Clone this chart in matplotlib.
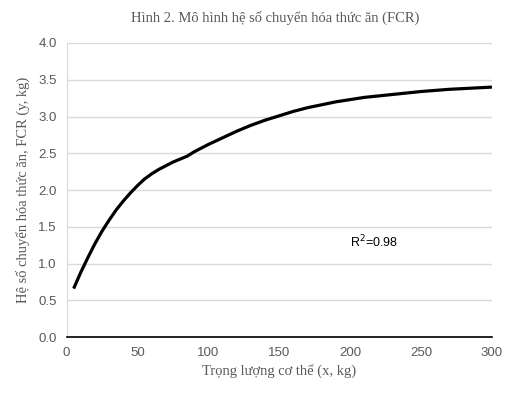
import numpy as np
import matplotlib.pyplot as plt

# weight (kg) vs FCR
weight = [5, 10, 15, 20, 25, 30, 35, 40, 45, 50, 55, 60, 65, 70, 75, 80,
          85, 90, 100, 110, 120, 130, 140, 150, 160, 170, 180, 190, 200,
          210, 220, 230, 240, 250, 260, 270, 280, 290, 300]
fcr = [0.66, 0.88, 1.08, 1.27, 1.44, 1.59, 1.73, 1.85, 1.96, 2.06, 2.15,
       2.22, 2.28, 2.33, 2.38, 2.42, 2.46, 2.52, 2.62, 2.71, 2.80, 2.88,
       2.95, 3.01, 3.07, 3.12, 3.16, 3.20, 3.23, 3.26, 3.28, 3.30, 3.32,
       3.34, 3.355, 3.37, 3.38, 3.39, 3.40]
xticks = [0, 50, 100, 150, 200, 250, 300]
yticks = [0.0, 0.5, 1.0, 1.5, 2.0, 2.5, 3.0, 3.5, 4.0]

serif = 'Liberation Serif'
sans = 'Liberation Sans'
grey = '#595959'

fig = plt.figure(figsize=(5.2, 3.98), dpi=100)
ax = fig.add_axes([0.128, 0.153, 0.818, 0.739])

ax.plot(weight, fcr, color='black', lw=2.3, solid_capstyle='butt',
        solid_joinstyle='round')

ax.set_xlim(0, 300)
ax.set_ylim(0, 4.0)
ax.set_xticks(xticks)
ax.set_yticks(yticks)
ax.set_xticklabels([str(t) for t in xticks], fontfamily=sans, fontsize=9.5, color=grey)
ax.set_yticklabels([f'{t:.1f}' for t in yticks], fontfamily=sans, fontsize=9.5, color=grey)
ax.tick_params(length=0, pad=7)
ax.yaxis.grid(True, color='#d9d9d9', lw=1)
ax.set_axisbelow(True)
for s in ['top', 'right']:
    ax.spines[s].set_visible(False)
ax.spines['left'].set_color('#d9d9d9')
ax.spines['bottom'].set_color('black')
ax.spines['bottom'].set_linewidth(1.2)

ax.set_xlabel('Trọng lượng cơ thể (x, kg)', fontfamily=serif, fontsize=10.5,
              color=grey, labelpad=4)
ax.set_ylabel('Hệ số chuyển hóa thức ăn, FCR (y, kg)', fontfamily=serif,
              fontsize=10.5, color=grey, labelpad=6)
fig.text(0.53, 0.955, 'Hình 2. Mô hình hệ số chuyển hóa thức ăn (FCR)',
         fontfamily=serif, fontsize=10.5, color=grey, ha='center', va='center')

ax.text(200, 1.29, 'R$^2$=0.98', fontfamily=sans, fontsize=9, color='black',
        va='center', ha='left')

fig.savefig('out.png', dpi=100)
